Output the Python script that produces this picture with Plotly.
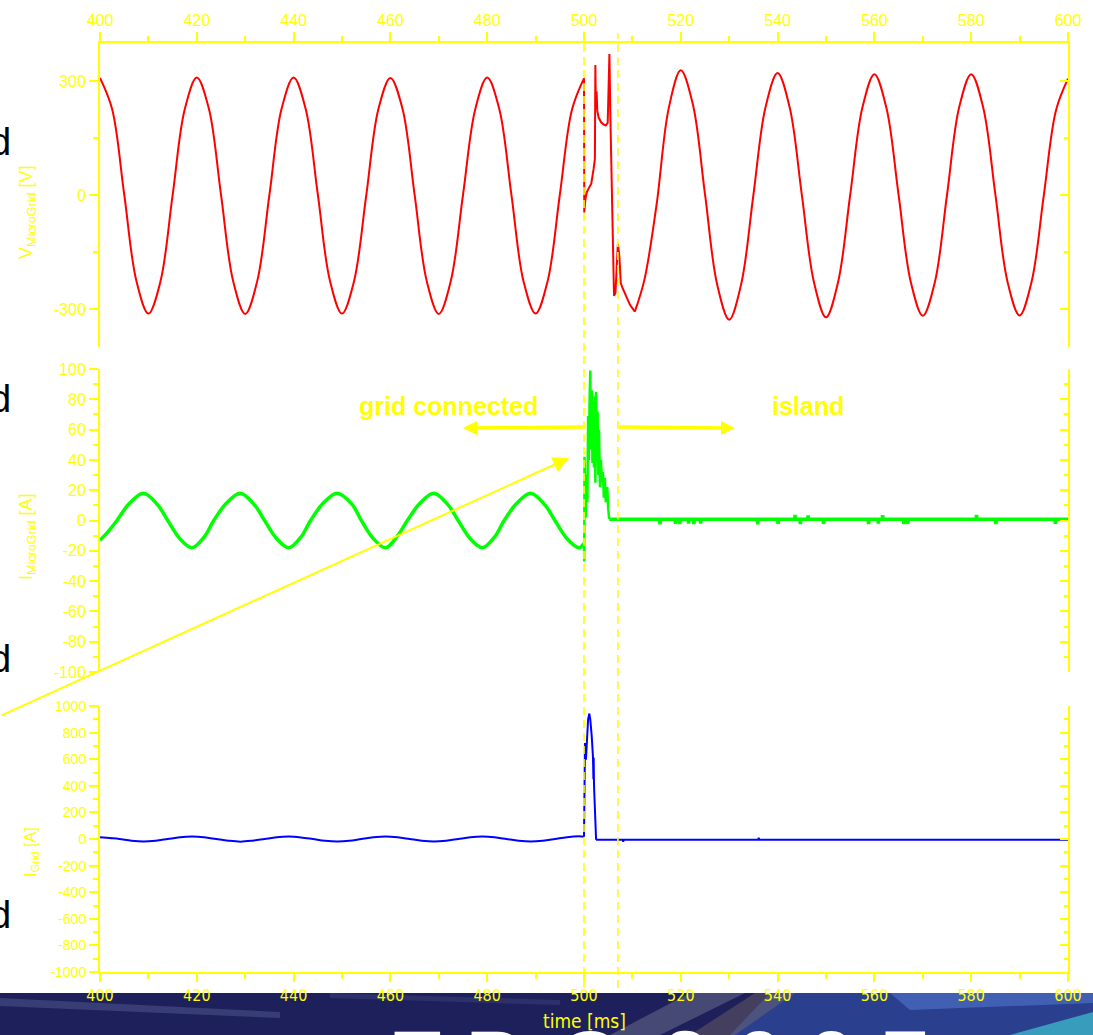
import plotly.graph_objects as go

# ---------------- data ----------------
# V_MicroGrid [V] : before the event (smooth), transient, after the event (smooth)
t_v_pre = [400.0, 402.5, 405.0, 407.5, 410.0, 412.5, 415.0, 417.5,
           420.0, 422.5, 425.0, 427.5, 430.0, 432.5, 435.0, 437.5,
           440.0, 442.5, 445.0, 447.5, 450.0, 452.5, 455.0, 457.5,
           460.0, 462.5, 465.0, 467.5, 470.0, 472.5, 475.0, 477.5,
           480.0, 482.5, 485.0, 487.5, 490.0, 492.5, 495.0, 497.5, 500.0]
v_pre = [308, 226, 2, -225, -312, -227, -1, 225,
         309, 227, 1, -226, -313, -226, 0, 226,
         309, 226, 2, -225, -312, -226, -2, 225,
         308, 227, 1, -226, -313, -225, 0, 224,
         309, 226, 1, -227, -312, -226, 0, 224, 307]

t_v_tr = [500.0, 500.05, 500.3, 500.6, 501.0, 501.5, 502.0, 502.25, 502.35, 502.45,
          502.6, 502.75, 503.0, 503.5, 504.0, 504.5, 504.9, 505.1, 505.25, 505.45,
          506.2, 506.5, 506.8, 507.0, 507.3, 507.6, 508.0, 508.8, 509.5, 510.5]
v_tr = [307, -46, -10, 8, 18, 30, 70, 95, 342, 240,
        272, 222, 205, 192, 186, 183, 190, 262, 371, 205,
        -265, -258, -175, -128, -160, -232, -246, -268, -289, -307]

t_v_post = [510.5, 512.5, 515.0, 517.5, 520.0, 522.5, 525.0, 527.5, 530.0, 532.5,
            535.0, 537.5, 540.0, 542.5, 545.0, 547.5, 550.0, 552.5, 555.0, 557.5,
            560.0, 562.5, 565.0, 567.5, 570.0, 572.5, 575.0, 577.5, 580.0, 582.5,
            585.0, 587.5, 590.0, 592.5, 595.0, 597.5, 600.0]
v_post = [-307, -222, -25, 228, 328, 238, 2, -235, -328, -233,
          0, 231, 321, 230, 1, -229, -322, -229, 0, 229,
          318, 228, 0, -228, -318, -229, 0, 230, 318, 229,
          1, -228, -317, -227, -1, 222, 306]

# I_MicroGrid [A]
t_i_pre = [400.0, 401.5, 403.5, 406.0, 409.0, 412.0, 414.0, 416.5, 419.0, 421.5,
           423.5, 426.0, 429.0, 432.0, 434.0, 436.5, 439.0, 441.5,
           443.5, 446.0, 449.0, 452.0, 454.0, 456.5, 459.0, 461.5,
           463.5, 466.0, 469.0, 472.0, 474.0, 476.5, 479.0, 481.5,
           483.5, 486.0, 489.0, 492.0, 494.0, 496.5, 499.0, 500.0]
i_pre = [-13, -8, 0, 11, 18, 10, 0, -12, -18, -11,
         0, 11, 18, 10, 0, -12, -18, -11,
         0, 11, 18, 11, 0, -12, -18, -10,
         0, 11, 18, 10, 0, -12, -18, -11,
         0, 11, 18, 10, 0, -12, -18, -15]

t_i_tr = [500.0, 500.05, 500.1, 500.2, 500.35, 500.5, 500.7, 500.85, 501.0, 501.15,
          501.3, 501.45, 501.6, 501.75, 501.9, 502.05, 502.2, 502.35, 502.5, 502.65,
          502.8, 502.95, 503.1, 503.3, 503.5, 503.7, 503.9, 504.1, 504.3, 504.5,
          504.8, 505.0, 505.2]
i_tr = [-15, -27, 42, 10, 2, 30, 12, 69, 40, 78,
        99, 47, 86, 38, 79, 35, 82, 25, 85, 40,
        72, 30, 60, 22, 40, 25, 32, 15, 28, 12,
        22, 8, 1]

t_i_post = [505.2,
            515.6, 515.7, 515.8,
            518.8, 518.9, 519.0,
            519.7, 519.8, 519.9,
            521.5, 521.6, 521.7,
            522.6, 522.7, 522.8,
            524.0, 524.1, 524.2,
            535.8, 535.9, 536.0,
            540.0, 540.1, 540.2,
            543.5, 543.6, 543.7,
            544.6, 544.7, 544.8,
            546.2, 546.3, 546.4,
            549.4, 549.5, 549.6,
            558.7, 558.8, 558.9,
            560.7, 560.8, 560.9,
            561.6, 561.7, 561.8,
            566.0, 566.1, 566.2,
            566.8, 566.9, 567.0,
            581.0, 581.1, 581.2,
            585.0, 585.1, 585.2,
            597.3, 597.4, 597.5,
            600.0]
i_post = [0.8,
          0.8, -2.5, 0.8,
          0.8, -2.2, 0.8,
          0.8, -2.4, 0.8,
          0.8, -2.0, 0.8,
          0.8, -2.3, 0.8,
          0.8, -2.1, 0.8,
          0.8, -2.5, 0.8,
          0.8, -2.2, 0.8,
          0.8, 3.6, 0.8,
          0.8, -2.3, 0.8,
          0.8, 3.4, 0.8,
          0.8, -2.2, 0.8,
          0.8, -2.4, 0.8,
          0.8, -2.1, 0.8,
          0.8, 3.5, 0.8,
          0.8, -2.3, 0.8,
          0.8, -2.2, 0.8,
          0.8, 3.7, 0.8,
          0.8, -2.4, 0.8,
          0.8, -2.2, 0.8,
          0.8]

# I_Grid [A]
t_g_pre = [400.0, 402.0, 404.0, 406.5, 409.0, 411.5, 414.0, 416.5, 419.0, 421.5,
           424.0, 426.5, 429.0, 431.5, 434.0, 436.5, 439.0, 441.5,
           444.0, 446.5, 449.0, 451.5, 454.0, 456.5, 459.0, 461.5,
           464.0, 466.5, 469.0, 471.5, 474.0, 476.5, 479.0, 481.5,
           484.0, 486.5, 489.0, 491.5, 494.0, 496.5, 499.0, 500.0]
g_pre = [14, 7, 0, -13, -19, -13, 0, 13, 18, 13,
         0, -13, -20, -13, 0, 13, 18, 12,
         0, -13, -19, -14, 0, 13, 19, 13,
         0, -13, -19, -13, 0, 13, 18, 13,
         0, -13, -19, -13, 0, 14, 20, 17]

t_g_tr = [500.0, 500.05, 500.2, 500.4, 500.6, 500.85, 501.1, 501.3, 501.6, 501.85,
          501.95, 502.0, 502.05, 502.1, 502.2, 502.4, 502.5]
g_tr = [17, 590, 722, 596, 780, 900, 943, 898, 772, 621,
        450, 610, 445, 370, 244, 5, -6]

t_g_post = [502.5, 508.0, 508.1, 508.2, 536.0, 536.1, 536.2, 600.0]
g_post = [-6, -6, -20, -6, -6, 10, -6, -6]

# axes / ticks
x_range = [400, 600]
v_range = [-400, 400]
i_range = [-100, 100]
g_range = [-1000, 1000]
v_tickvals = [-300, 0, 300]
v_ticktext = ["-300", "0", "300"]
i_tickvals = [-100, -80, -60, -40, -20, 0, 20, 40, 60, 80, 100]
i_ticktext = ["-100", "-80", "-60", "-40", "-20", "0", "20", "40", "60", "80", "100"]
g_tickvals = [-1000, -800, -600, -400, -200, 0, 200, 400, 600, 800, 1000]
g_ticktext = ["-1000", "-800", "-600", "-400", "-200", "0", "200", "400", "600",
              "800", "1000"]
event_times = [500.0, 507.0]
bottom_letters = ["E", "P", "C", "2", "0", "0", "7"]
bottom_letter_px = [417, 494, 588, 685, 759, 831, 905]

# ---------------- styling ----------------
YEL = "#ffff00"
FONT = "Liberation Sans, Arial, sans-serif"
NARROW = "Liberation Sans Narrow, DejaVu Sans Condensed, Arial Narrow, sans-serif"

W, H = 1093, 1035
L, R, T, B = 100, 25, 43, 63
PW, PH = W - L - R, H - T - B


def px(x):
    return (x - L) / PW


def py(y):
    return (H - B - y) / PH


fig = go.Figure()

RED, GREEN, BLUE = "#ff0000", "#00ff00", "#0000ff"

fig.add_trace(go.Scatter(x=t_v_pre, y=v_pre, mode="lines", xaxis="x", yaxis="y",
                         line=dict(color=RED, width=2, shape="spline")))
fig.add_trace(go.Scatter(x=t_v_tr, y=v_tr, mode="lines", xaxis="x", yaxis="y",
                         line=dict(color=RED, width=2)))
fig.add_trace(go.Scatter(x=t_v_post, y=v_post, mode="lines", xaxis="x", yaxis="y",
                         line=dict(color=RED, width=2, shape="spline")))

fig.add_trace(go.Scatter(x=t_i_pre, y=i_pre, mode="lines", xaxis="x2", yaxis="y2",
                         line=dict(color=GREEN, width=3.5, shape="spline")))
fig.add_trace(go.Scatter(x=t_i_tr, y=i_tr, mode="lines", xaxis="x2", yaxis="y2",
                         line=dict(color=GREEN, width=2.5)))
fig.add_trace(go.Scatter(x=t_i_post, y=i_post, mode="lines", xaxis="x2", yaxis="y2",
                         line=dict(color=GREEN, width=3.5)))

fig.add_trace(go.Scatter(x=t_g_pre, y=g_pre, mode="lines", xaxis="x3", yaxis="y3",
                         line=dict(color=BLUE, width=2, shape="spline")))
fig.add_trace(go.Scatter(x=t_g_tr, y=g_tr, mode="lines", xaxis="x3", yaxis="y3",
                         line=dict(color=BLUE, width=2)))
fig.add_trace(go.Scatter(x=t_g_post, y=g_post, mode="lines", xaxis="x3", yaxis="y3",
                         line=dict(color=BLUE, width=2)))

# empty traces so the mirrored right-hand axes exist
for ya, xa in (("y4", "x"), ("y5", "x2"), ("y6", "x3")):
    fig.add_trace(go.Scatter(x=[None], y=[None], mode="lines", xaxis=xa, yaxis=ya,
                             hoverinfo="skip"))


def yax(domain, rng, tv, tt, mdtick, anchor, size):
    return dict(domain=domain, range=rng, anchor=anchor,
                tickmode="array", tickvals=tv, ticktext=tt,
                showline=True, linecolor=YEL, linewidth=2,
                ticks="outside", ticklen=9, tickwidth=1.5, tickcolor=YEL,
                minor=dict(tickmode="linear", tick0=0, dtick=mdtick, ticks="outside",
                           ticklen=5, tickwidth=1.5, tickcolor=YEL, showgrid=False),
                tickfont=dict(family=FONT, size=size, color=YEL),
                showgrid=False, zeroline=False, fixedrange=True)


def yax_mirror(over, rng, tv, mdtick, anchor):
    return dict(overlaying=over, side="right", anchor=anchor, range=rng,
                tickmode="array", tickvals=tv,
                showline=True, linecolor=YEL, linewidth=2,
                ticks="inside", ticklen=8, tickwidth=1.5, tickcolor=YEL,
                minor=dict(tickmode="linear", tick0=0, dtick=mdtick, ticks="inside",
                           ticklen=4, tickwidth=1.5, tickcolor=YEL, showgrid=False),
                showticklabels=False, showgrid=False, zeroline=False)


d_top = [py(347), 1.0]
d_mid = [py(672), py(369)]
d_bot = [0.0, py(706)]

fig.update_layout(
    width=W, height=H, autosize=False,
    margin=dict(l=L, r=R, t=T, b=B),
    paper_bgcolor="white", plot_bgcolor="white",
    showlegend=False,
    xaxis=dict(domain=[0, 1], anchor="y", side="top", range=x_range, dtick=20,
               tick0=400, showline=True, linecolor=YEL, linewidth=2,
               ticks="outside", ticklen=9, tickwidth=1.5, tickcolor=YEL,
               minor=dict(dtick=10, ticks="outside", ticklen=5, tickwidth=1.5,
                          tickcolor=YEL, showgrid=False),
               tickfont=dict(family=FONT, size=16, color=YEL),
               showgrid=False, zeroline=False, fixedrange=True),
    xaxis2=dict(domain=[0, 1], anchor="y2", range=x_range, showline=False,
                showticklabels=False, ticks="", showgrid=False, zeroline=False),
    xaxis3=dict(domain=[0, 1], anchor="y3", side="bottom", range=x_range, dtick=20,
                tick0=400, showline=True, linecolor=YEL, linewidth=2,
                ticks="outside", ticklen=8, tickwidth=1.5, tickcolor=YEL,
                minor=dict(dtick=10, ticks="outside", ticklen=5, tickwidth=1.5,
                           tickcolor=YEL, showgrid=False),
                tickfont=dict(family=NARROW, size=16, color=YEL),
                showgrid=False, zeroline=False, fixedrange=True),
    yaxis=yax(d_top, v_range, v_tickvals, v_ticktext, 150, "x", 16),
    yaxis2=yax(d_mid, i_range, i_tickvals, i_ticktext, 10, "x2", 16),
    yaxis3=yax(d_bot, g_range, g_tickvals, g_ticktext, 100, "x3", 14),
    yaxis4=yax_mirror("y", v_range, v_tickvals, 150, "x"),
    yaxis5=yax_mirror("y2", i_range, i_tickvals, 10, "x2"),
    yaxis6=yax_mirror("y3", g_range, g_tickvals, 100, "x3"),
)

shapes = []


def poly(pts):
    s = "M " + " L ".join(f"{px(a):.5f},{py(b):.5f}" for a, b in pts) + " Z"
    return s


# slide background strip at the bottom
shapes.append(dict(type="rect", xref="paper", yref="paper", layer="below",
                   x0=px(-5), x1=px(W + 5), y0=py(993), y1=py(H + 10),
                   fillcolor="#1e205c", line=dict(width=0)))
strip_deco = [
    ([(0, 998), (280, 1012), (280, 1018), (0, 1006)], "rgba(120,130,175,0.30)"),
    ([(330, 993), (560, 1000), (560, 1005), (330, 998)], "rgba(90,100,150,0.25)"),
    ([(770, 993), (1093, 993), (1093, 1035), (730, 1035)], "rgba(50,80,170,0.65)"),
    ([(610, 1035), (690, 993), (745, 993), (660, 1035)], "rgba(130,135,150,0.40)"),
    ([(690, 1035), (755, 993), (795, 993), (735, 1035)], "rgba(140,120,100,0.35)"),
    ([(890, 993), (1093, 993), (1093, 1003), (910, 1010)], "rgba(90,130,215,0.5)"),
    ([(1010, 1035), (1093, 1012), (1093, 1035)], "rgba(60,180,200,0.8)"),
]
for pts, col in strip_deco:
    shapes.append(dict(type="path", xref="paper", yref="paper", layer="below",
                       path=poly(pts), fillcolor=col, line=dict(width=0)))

# dashed event markers
for te in event_times:
    shapes.append(dict(type="line", xref="x3", yref="paper", layer="above",
                       x0=te, x1=te, y0=py(988), y1=py(33),
                       line=dict(color=YEL, width=1.6, dash="8px,5px")))

fig.update_layout(shapes=shapes)

ann = []
# axis titles
ann.append(dict(text="V<sub>MicroGrid</sub> [V]", xref="paper", yref="paper",
                x=px(27), y=py(212), textangle=-90, showarrow=False,
                xanchor="center", yanchor="middle",
                font=dict(family=FONT, size=18, color=YEL)))
ann.append(dict(text="I<sub>MicroGrid</sub> [A]", xref="paper", yref="paper",
                x=px(27), y=py(537), textangle=-90, showarrow=False,
                xanchor="center", yanchor="middle",
                font=dict(family=FONT, size=18, color=YEL)))
ann.append(dict(text="I<sub>Grid</sub> [A]", xref="paper", yref="paper",
                x=px(31), y=py(852), textangle=-90, showarrow=False,
                xanchor="center", yanchor="middle",
                font=dict(family=FONT, size=16, color=YEL)))
ann.append(dict(text="time [ms]", xref="paper", yref="paper",
                x=0.5, y=py(1021), showarrow=False,
                xanchor="center", yanchor="middle",
                font=dict(family=NARROW, size=19, color=YEL)))

# region labels and arrows
ann.append(dict(text="<b>grid connected</b>", xref="paper", yref="paper",
                x=px(448), y=py(406), showarrow=False, xanchor="center",
                yanchor="middle", font=dict(family=FONT, size=25, color=YEL)))
ann.append(dict(text="<b>island</b>", xref="paper", yref="paper",
                x=px(808), y=py(406), showarrow=False, xanchor="center",
                yanchor="middle", font=dict(family=FONT, size=25, color=YEL)))
ann.append(dict(text="", xref="paper", yref="paper", x=px(463), y=py(428),
                ax=122, ay=-1, showarrow=True, arrowhead=2, arrowsize=0.8,
                arrowwidth=3.5, arrowcolor=YEL, standoff=0, startstandoff=0))
ann.append(dict(text="", xref="paper", yref="paper", x=px(735), y=py(428),
                ax=-118, ay=-1, showarrow=True, arrowhead=2, arrowsize=0.8,
                arrowwidth=3.5, arrowcolor=YEL, standoff=0, startstandoff=0))
ann.append(dict(text="", xref="paper", yref="paper", x=px(569), y=py(458),
                ax=-589, ay=258, showarrow=True, arrowhead=2, arrowsize=1.6,
                arrowwidth=2, arrowcolor=YEL, standoff=0, startstandoff=0))

# cut-off slide text at the left edge
for yb in (155, 412, 672, 928):
    ann.append(dict(text="d", xref="paper", yref="paper", x=px(13), y=py(yb - 12.7),
                    showarrow=False, xanchor="right", yanchor="middle",
                    font=dict(family=FONT, size=38, color="black")))

# cut-off slide title at the bottom
for ch, xc in zip(bottom_letters, bottom_letter_px):
    ann.append(dict(text=f"<b>{ch}</b>", xref="paper", yref="paper", x=px(xc),
                    y=py(1011), showarrow=False, xanchor="center", yanchor="top",
                    font=dict(family=FONT, size=84, color="white")))

fig.update_layout(annotations=ann)

fig.write_html("out.html", config={"displayModeBar": False})
